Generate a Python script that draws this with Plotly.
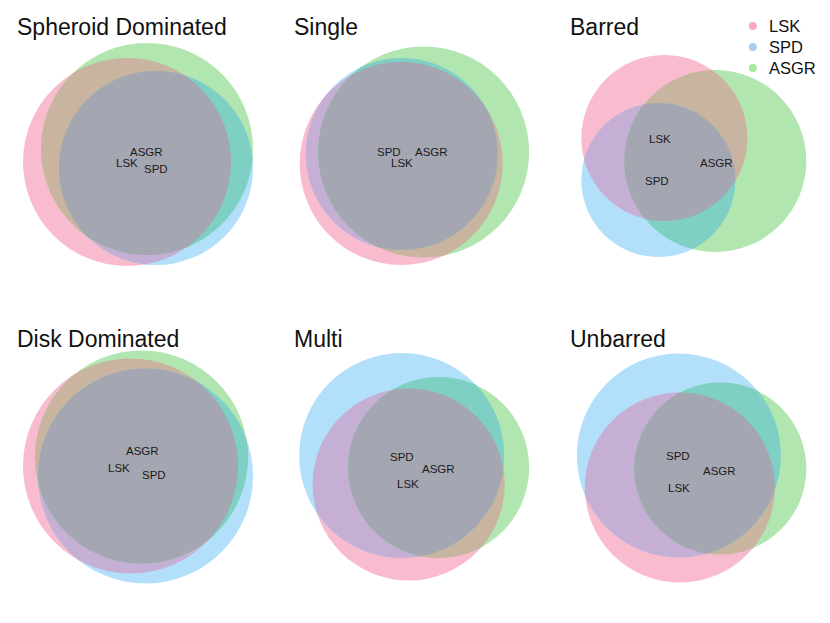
import numpy as np
import plotly.graph_objects as go

# facets and sets
panels = ["Spheroid Dominated", "Single", "Barred",
          "Disk Dominated", "Multi", "Unbarred"]
sets = ["LSK", "SPD", "ASGR"]

# circle centres and radii per panel (order LSK, SPD, ASGR), local panel units, y down
circle_x = [[127, 156, 147], [124.5, 125, 147], [111, 105, 162],
            [130.5, 145.5, 141.5], [132, 125, 162], [126.5, 125.5, 167]]
circle_y = [[162, 168, 149], [163.5, 154, 152], [138, 180, 161],
            [154.5, 164.5, 145.5], [173, 144, 156], [176, 144, 157]]
circle_r = [[104, 97, 106], [101.5, 96, 105.5], [83, 77, 91],
            [107.5, 107.5, 106.5], [96, 102.5, 90.5], [95, 102, 86]]

# label positions (order LSK, SPD, ASGR)
label_x = [[127, 156, 146], [125, 112, 155], [107, 104, 163],
           [119, 154, 142], [131, 125, 162], [126, 125, 166]]
label_y = [[163, 169, 152], [163, 152, 152], [139, 181, 163],
           [156, 163, 139], [172, 145, 157], [176, 144, 159]]

# fill colour of each region (key = which sets overlap)
region_colors = {
    (0,): "#F9BCCF", (1,): "#B2E0FA", (2,): "#B2E6B0",
    (0, 1): "#C6AFD5", (0, 2): "#C9B4A0", (1, 2): "#7ED0C5",
    (0, 1, 2): "#A4A6B1",
}
legend_colors = ["#F7AABC", "#AACDF0", "#A6E89E"]

# page geometry: the browser keeps an 8px body margin round the figure
PAGE_W, PAGE_H, PAD = 830, 623, 8
W, H = PAGE_W - 2 * PAD, PAGE_H - 2 * PAD
colw = PAGE_W / 3
rowh = PAGE_H / 2


def intersection_path(circles):
    # boundary of the (convex) intersection of several disks
    pts = []
    t = np.linspace(0, 2 * np.pi, 900, endpoint=False)
    for i, (x, y, r) in enumerate(circles):
        px = x + r * np.cos(t)
        py = y + r * np.sin(t)
        keep = np.ones_like(t, dtype=bool)
        for j, (x2, y2, r2) in enumerate(circles):
            if j != i:
                keep &= (px - x2) ** 2 + (py - y2) ** 2 <= (r2 + 0.01) ** 2
        pts.append(np.column_stack([px[keep], py[keep]]))
    pts = np.vstack(pts)
    c = pts.mean(axis=0)
    order = np.argsort(np.arctan2(pts[:, 1] - c[1], pts[:, 0] - c[0]))
    pts = pts[order]
    return "M " + " L ".join(f"{a:.2f},{b:.2f}" for a, b in pts) + " Z"


fig = go.Figure()
shapes = []
annotations = []

for k, name in enumerate(panels):
    row, col = divmod(k, 3)
    n = k + 1
    sfx = "" if n == 1 else str(n)
    xa, ya = "x" + sfx, "y" + sfx
    # panel box on the page, clipped to the figure area
    px0, px1 = max(col * colw, PAD), min((col + 1) * colw, PAD + W)
    py0, py1 = max(row * rowh, PAD), min((row + 1) * rowh, PAD + H)
    fig.layout["xaxis" + sfx] = dict(
        domain=[(px0 - PAD) / W, (px1 - PAD) / W],
        range=[px0 - col * colw, px1 - col * colw],
        visible=False, fixedrange=True, anchor=ya)
    fig.layout["yaxis" + sfx] = dict(
        domain=[1 - (py1 - PAD) / H, 1 - (py0 - PAD) / H],
        range=[py1 - row * rowh, py0 - row * rowh],
        visible=False, fixedrange=True, anchor=xa)

    circles = list(zip(circle_x[k], circle_y[k], circle_r[k]))
    # single disks, then pairwise lenses, then the triple overlap on top
    for i, (x, y, r) in enumerate(circles):
        shapes.append(dict(type="circle", xref=xa, yref=ya, x0=x - r, x1=x + r,
                           y0=y - r, y1=y + r, fillcolor=region_colors[(i,)],
                           line_width=0))
    for key in [(0, 1), (0, 2), (1, 2), (0, 1, 2)]:
        shapes.append(dict(type="path", xref=xa, yref=ya,
                           path=intersection_path([circles[i] for i in key]),
                           fillcolor=region_colors[key], line_width=0))

    for i, s in enumerate(sets):
        annotations.append(dict(x=label_x[k][i], y=label_y[k][i], xref=xa, yref=ya,
                                text=s, showarrow=False,
                                font=dict(size=11.5, color="#1a1a1a")))
    annotations.append(dict(x=15, y=27, xref=xa, yref=ya, text=name,
                            showarrow=False, xanchor="left", yanchor="middle",
                            font=dict(size=23, color="#111111")))

# legend, drawn in the top-right panel
leg_y = [26, 47, 68]
fig.add_trace(go.Scatter(x=[199.5] * 3, y=leg_y, mode="markers", xaxis="x3", yaxis="y3",
                         marker=dict(color=legend_colors, size=8), cliponaxis=False,
                         showlegend=False, hoverinfo="skip"))
for s, yy in zip(sets, leg_y):
    annotations.append(dict(x=213.5, y=yy, xref="x3", yref="y3", text=s,
                            showarrow=False, xanchor="left", yanchor="middle",
                            font=dict(size=16.5, color="#111111")))

fig.update_layout(
    width=W, height=H,
    margin=dict(l=0, r=0, t=0, b=0),
    paper_bgcolor="white", plot_bgcolor="white",
    shapes=shapes, annotations=annotations,
    font=dict(family="Liberation Sans, Arial, sans-serif", color="#111111"),
    showlegend=False,
)

fig.write_html("out.html")
